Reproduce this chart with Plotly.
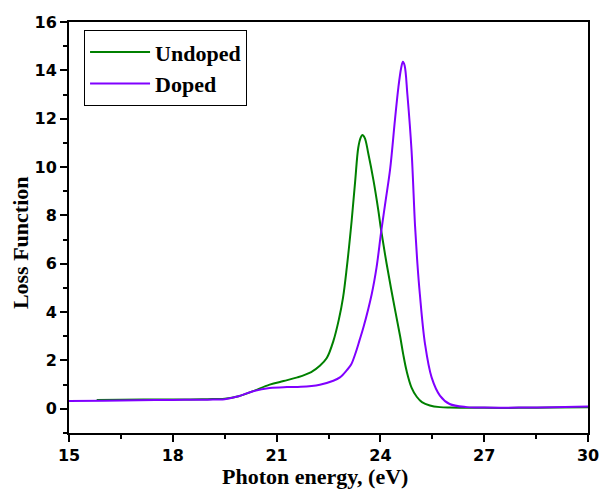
import plotly.graph_objects as go

undoped_x = [15.8, 16.5, 17.5, 18.5, 19.0, 19.5, 19.9, 20.3, 20.8, 21.2, 21.6, 22.0, 22.25, 22.45, 22.64,
             22.8, 22.92, 23.03, 23.17, 23.27, 23.36, 23.43, 23.48, 23.55, 23.65, 23.8, 23.94, 24.02,
             24.18, 24.37, 24.57, 24.66, 24.76, 24.9, 25.05, 25.2, 25.43, 25.72, 26.0, 27.0, 28.0,
             29.0, 30.0]
undoped_y = [0.37, 0.38, 0.39, 0.39, 0.40, 0.42, 0.52, 0.72, 1.0, 1.15, 1.30, 1.52, 1.78, 2.1, 2.8,
             3.7, 4.6, 5.86, 7.79, 9.4, 10.8, 11.22, 11.33, 11.2, 10.56, 9.45, 8.21, 7.4,
             6.0, 4.5, 3.0, 2.25, 1.55, 0.88, 0.5, 0.28, 0.14, 0.07, 0.05, 0.04, 0.04,
             0.05, 0.07]

doped_x = [15.0, 16.0, 17.0, 18.0, 19.0, 19.5, 19.9, 20.3, 20.8, 21.3, 21.7, 22.25, 22.64, 22.83, 23.03,
           23.15, 23.28, 23.4, 23.51, 23.75, 23.89, 24.02, 24.15, 24.28, 24.42, 24.52, 24.6, 24.65,
           24.7, 24.78, 24.9, 25.0, 25.07, 25.14, 25.29, 25.48, 25.72, 26.0, 26.5, 27.0, 28.0,
           29.0, 30.0]
doped_y = [0.32, 0.33, 0.35, 0.37, 0.38, 0.40, 0.52, 0.72, 0.86, 0.90, 0.91, 1.0, 1.16, 1.3, 1.6,
           1.82, 2.3, 2.85, 3.37, 4.75, 5.86, 7.3, 8.6, 9.9, 11.94, 13.3, 14.1, 14.36,
           14.2, 13.0, 10.69, 7.6, 6.0, 4.75, 2.68, 1.3, 0.55, 0.2, 0.07, 0.05, 0.05,
           0.07, 0.10]

x_ticks = [15, 18, 21, 24, 27, 30]
y_ticks = [0, 2, 4, 6, 8, 10, 12, 14, 16]

fig = go.Figure()
fig.add_trace(go.Scatter(x=undoped_x, y=undoped_y, mode="lines", name="Undoped",
                         line=dict(color="#008000", width=2, shape="spline", smoothing=1.0)))
fig.add_trace(go.Scatter(x=doped_x, y=doped_y, mode="lines", name="Doped",
                         line=dict(color="#8000ff", width=2, shape="spline", smoothing=1.0)))

serif = "Liberation Serif"
sans = "DejaVu Sans"
title_font = dict(family=serif, size=22, color="black", weight="bold")

fig.update_layout(
    width=600, height=491,
    margin=dict(l=69, r=12, t=22, b=58, autoexpand=False),
    plot_bgcolor="white", paper_bgcolor="white",
    showlegend=True,
    legend=dict(x=0.029, y=0.98, xanchor="left", yanchor="top",
                bordercolor="black", borderwidth=1, bgcolor="white",
                font=dict(family=serif, size=22, color="black", weight="bold"),
                itemwidth=60, tracegroupgap=0),
    xaxis=dict(range=[15, 30], tickvals=x_ticks, ticks="outside", ticklen=7, tickwidth=2,
               tickcolor="black", automargin=False,
               showline=True, linewidth=2, linecolor="black", mirror=True, showgrid=False,
               zeroline=False,
               tickfont=dict(family=sans, size=16, color="black", weight="bold"),
               minor=dict(dtick=1.5, ticks="outside", ticklen=4, tickwidth=2, tickcolor="black", showgrid=False)),
    yaxis=dict(range=[-1, 16], tickvals=y_ticks, ticks="outside", ticklen=7, tickwidth=2,
               tickcolor="black", automargin=False,
               showline=True, linewidth=2, linecolor="black", mirror=True, showgrid=False,
               zeroline=False,
               tickfont=dict(family=sans, size=16, color="black", weight="bold"),
               minor=dict(dtick=1, ticks="outside", ticklen=4, tickwidth=2, tickcolor="black", showgrid=False)),
    annotations=[
        dict(text="Loss Function", xref="paper", yref="paper", x=-0.0944, y=0.462,
             xanchor="center", yanchor="middle", textangle=-90, showarrow=False, font=title_font),
        dict(text="Photon energy, (eV)", xref="paper", yref="paper", x=0.474, y=-0.106,
             xanchor="center", yanchor="middle", showarrow=False, font=title_font),
    ],
)

fig.write_html("out.html")
